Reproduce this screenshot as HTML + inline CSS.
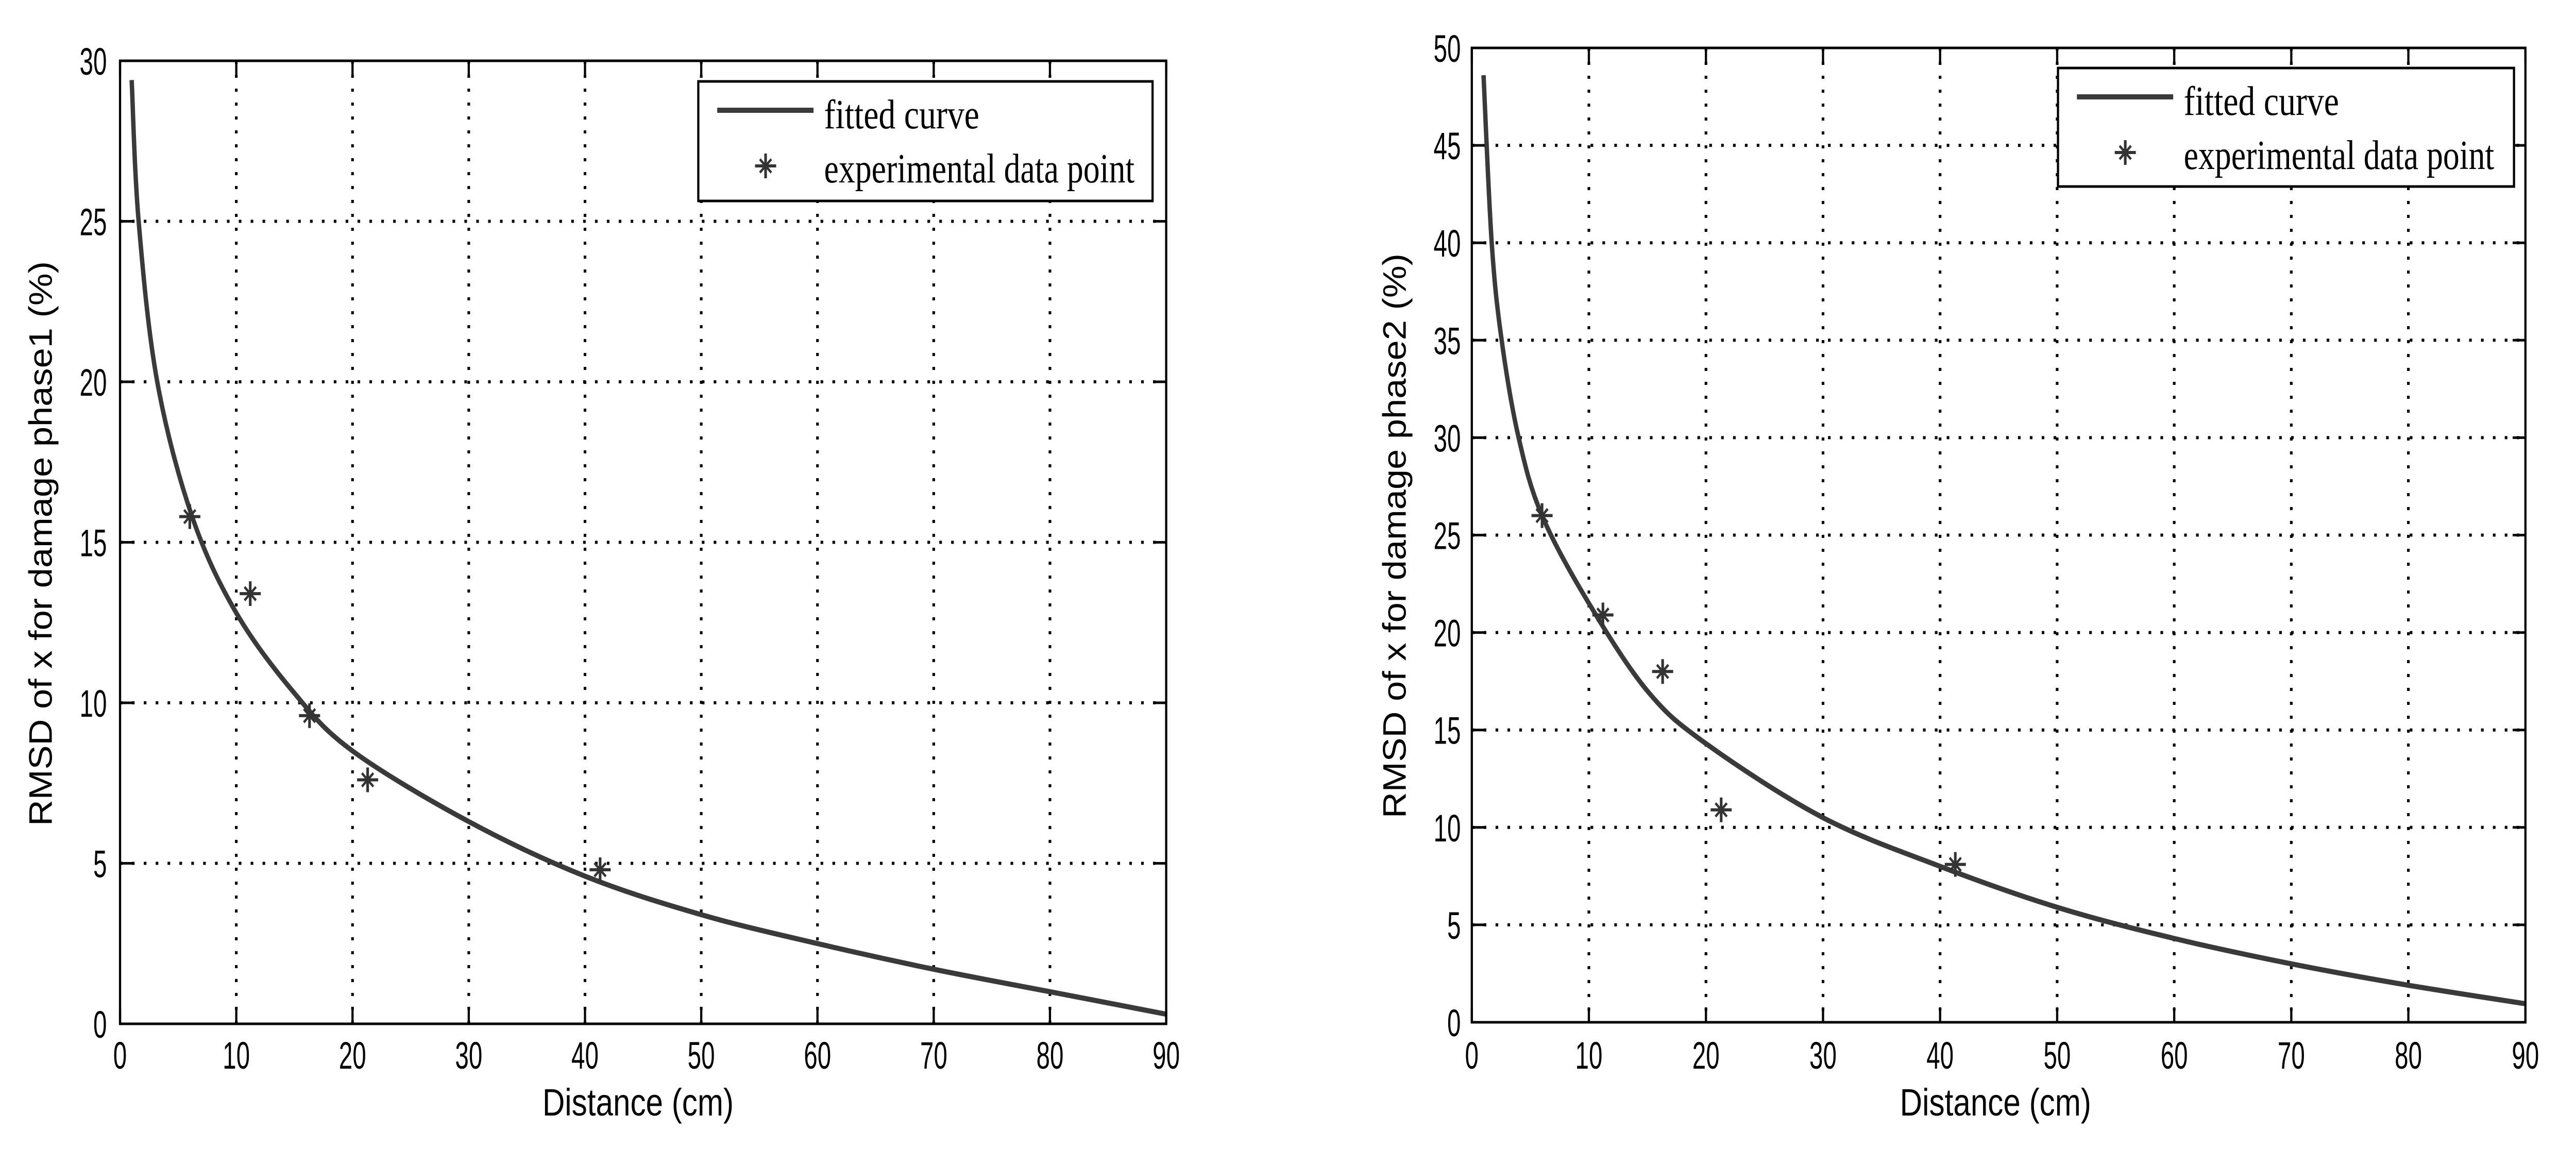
<!DOCTYPE html>
<html><head><meta charset="utf-8">
<style>
html,body{margin:0;padding:0;background:#fff;width:100%;height:100%;overflow:hidden;}
svg{display:block;width:100vw;height:100vh;}
</style></head>
<body>
<svg id="fig" viewBox="0 0 5858 2261" preserveAspectRatio="none" xmlns="http://www.w3.org/2000/svg">
<rect x="0" y="0" width="5858" height="2261" fill="#fff"/>
</svg>
<script>
// ---- data ----
const xTicks = [0,10,20,30,40,50,60,70,80,90];
const yTicks1 = [0,5,10,15,20,25,30];
const yTicks2 = [0,5,10,15,20,25,30,35,40,45,50];
const curve1X = [1,1.6,3.2,6.2,10,15,20,30,40,50,60,70,80,90];
const curve1Y = [29.4,25,20,15.8,12.8,10.3,8.5,6.3,4.6,3.4,2.5,1.7,1.0,0.3];
const points1X = [6,11.2,16.3,21.3,41.3];
const points1Y = [15.8,13.4,9.6,7.6,4.8];
const curve2X = [1,1.7,2.55,4,6,10,15,20,30,40,50,60,70,80,90];
const curve2Y = [48.6,40,35,30,26,21.5,17,14.3,10.5,8,5.9,4.3,3.0,1.9,0.95];
const points2X = [6,11.2,16.3,21.3,41.3];
const points2Y = [26,20.9,18,10.9,8.1];

const NS = "http://www.w3.org/2000/svg";
const svg = document.getElementById('fig');
function mk(tag, attrs, parent){
  const e = document.createElementNS(NS, tag);
  for (const k in attrs) e.setAttribute(k, attrs[k]);
  (parent||svg).appendChild(e);
  return e;
}

function drawPlot(cfg){
  const g = mk('g', {});
  
  
  const L=cfg.L, R=cfg.R, T=cfg.T, B=cfg.B;
  const sx = v => L + (v - 0)/(90 - 0)*(R-L);
  const sy = v => B - (v - 0)/(cfg.ymax - 0)*(B-T);

  const grid = mk('g', {stroke:'#000','stroke-width':6,'stroke-dasharray':'6 21',fill:'none'}, g);
  
  
  xTicks.slice(1,-1).forEach(v=>{
    const l = mk('line',{x1:sx(v),x2:sx(v),y1:T,y2:B},grid);
    
    
  });
  cfg.yTicks.slice(1,-1).forEach(v=>{
    const l = mk('line',{x1:L,x2:R,y1:sy(v),y2:sy(v)},grid);
    
    
  });

  const px = cfg.cx.map(sx), py = cfg.cy.map(sy);
  let d = `M${px[0]},${py[0]}`;
  for (let i=0;i<px.length-1;i++){
    const x0=px[Math.max(i-1,0)], y0=py[Math.max(i-1,0)];
    const x1=px[i], y1=py[i], x2=px[i+1], y2=py[i+1];
    const x3=px[Math.min(i+2,px.length-1)], y3=py[Math.min(i+2,px.length-1)];
    const c1x=x1+(x2-x0)/6, c1y=y1+(y2-y0)/6, c2x=x2-(x3-x1)/6, c2y=y2-(y3-y1)/6;
    d += ` C${c1x},${c1y} ${c2x},${c2y} ${x2},${y2}`;
  }
  const path = mk('path',{d:d,fill:'none',stroke:'#3a3a3a','stroke-width':10,'stroke-linejoin':'round','stroke-linecap':'butt'},g);
  
  

  cfg.ptx.forEach((v,i)=>{
    const star = drawStar(sx(v), sy(cfg.pty[i]), g);
    
    
  });

  const box = mk('rect',{x:L,y:T,width:R-L,height:B-T,fill:'none',stroke:'#000','stroke-width':5},g);
  
  

  const tk = mk('g',{stroke:'#000','stroke-width':5},g);
  
  
  xTicks.forEach(v=>{
    mk('line',{x1:sx(v),x2:sx(v),y1:B,y2:B-29},tk);
    mk('line',{x1:sx(v),x2:sx(v),y1:T,y2:T+29},tk);
    const t = mk('text',{x:sx(v),y:2074,'text-anchor':'middle','font-family':'Liberation Sans, sans-serif','font-size':74,fill:'#000',textLength:String(v).length*31,lengthAdjust:'spacingAndGlyphs'},g);
    t.textContent = v;
    
    
  });
  cfg.yTicks.forEach(v=>{
    mk('line',{x1:L,x2:L+29,y1:sy(v),y2:sy(v)},tk);
    mk('line',{x1:R,x2:R-29,y1:sy(v),y2:sy(v)},tk);
    const n = String(v).length;
    const t = mk('text',{x:cfg.yLabelRight - n*31, y:sy(v)+27,'font-family':'Liberation Sans, sans-serif','font-size':74,fill:'#000',textLength:n*31,lengthAdjust:'spacingAndGlyphs'},g);
    t.textContent = v;
    
    
  });

  const xt = mk('text',{x:cfg.xTitleX,y:2165,'text-anchor':'middle','font-family':'Liberation Sans, sans-serif','font-size':74,fill:'#000',textLength:435,lengthAdjust:'spacingAndGlyphs'},g);
  xt.textContent = 'Distance (cm)';
  
  
  const yt = mk('text',{x:0,y:0,'text-anchor':'middle','font-family':'Liberation Sans, sans-serif','font-size':74,fill:'#000',textLength:1096,lengthAdjust:'spacingAndGlyphs',transform:`translate(${cfg.yTitleX},${cfg.yTitleY}) rotate(-90)`},g);
  yt.textContent = cfg.yTitle;
  
  

  const lg = mk('g',{},g);
  
  
  const lb = cfg.leg;
  mk('rect',{x:lb.x,y:lb.y,width:lb.w,height:lb.h,fill:'#fff',stroke:'#000','stroke-width':5},lg);
  const ll = mk('line',{x1:lb.x+43,x2:lb.x+262,y1:lb.y+56,y2:lb.y+56,stroke:'#3a3a3a','stroke-width':10},lg);
  
  
  const t1 = mk('text',{x:lb.x+286,y:lb.y+91,'font-family':'Liberation Serif, serif','font-size':80,fill:'#000',textLength:353,lengthAdjust:'spacingAndGlyphs'},lg);
  t1.textContent = 'fitted curve';
  
  
  const s = drawStar(lb.x+153, lb.y+164, lg);
  
  
  const t2 = mk('text',{x:lb.x+286,y:lb.y+196,'font-family':'Liberation Serif, serif','font-size':80,fill:'#000',textLength:706,lengthAdjust:'spacingAndGlyphs'},lg);
  t2.textContent = 'experimental data point';
  
  
}

function drawStar(cx, cy, parent){
  const g = mk('g',{stroke:'#333','stroke-width':6,fill:'none'},parent);
  mk('line',{x1:cx-24,x2:cx+24,y1:cy,y2:cy},g);
  mk('line',{x1:cx,x2:cx,y1:cy-24,y2:cy+24},g);
  mk('line',{x1:cx-13,x2:cx+13,y1:cy-13,y2:cy+13,'stroke-width':5},g);
  mk('line',{x1:cx-13,x2:cx+13,y1:cy+13,y2:cy-13,'stroke-width':5},g);
  return g;
}

drawPlot({name:'plot-phase1',L:273,R:2652,T:118,B:1987,ymax:30,yTicks:yTicks1,
  cx:curve1X,cy:curve1Y,ptx:points1X,pty:points1Y,yLabelRight:243,
  xTitleX:1451,yTitleX:118,yTitleY:1055,yTitle:'RMSD of x for damage phase1 (%)',
  leg:{x:1588,y:158,w:1033,h:232}});
drawPlot({name:'plot-phase2',L:3347,R:5743,T:93,B:1984,ymax:50,yTicks:yTicks2,
  cx:curve2X,cy:curve2Y,ptx:points2X,pty:points2Y,yLabelRight:3322,
  xTitleX:4538,yTitleX:3197,yTitleY:1040,yTitle:'RMSD of x for damage phase2 (%)',
  leg:{x:4680,y:132,w:1037,h:230}});
</script>
</body></html>
